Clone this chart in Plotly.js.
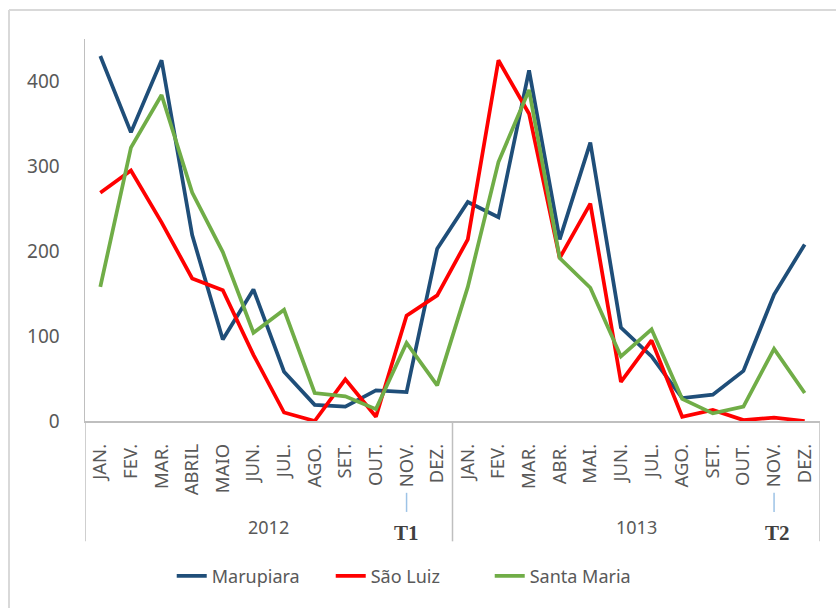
<!DOCTYPE html>
<html>
<head>
<meta charset="utf-8">
<script src="https://cdn.plot.ly/plotly-3.0.1.min.js"></script>
<style>html,body{margin:0;padding:0;background:#fff;}#chart{width:836px;height:608px;}</style>
</head>
<body>
<div id="chart"></div>
<script>
const years = ["2012", "1013"];
const months2012 = ["JAN.", "FEV.", "MAR.", "ABRIL", "MAIO", "JUN.", "JUL.", "AGO.", "SET.", "OUT.", "NOV.", "DEZ."];
const months2013 = ["JAN.", "FEV.", "MAR.", "ABR.", "MAI.", "JUN.", "JUL.", "AGO.", "SET.", "OUT.", "NOV.", "DEZ."];

const marupiara = [430, 340, 425, 219, 96, 155, 58, 19, 17, 36, 34, 203,
                   258, 240, 413, 214, 328, 110, 76, 27, 31, 59, 149, 208];
const saoLuiz   = [269, 295, 234, 168, 154, 78, 10, 0, 49, 5, 124, 148,
                   214, 425, 362, 192, 256, 46, 95, 5, 13, 1, 4, 0];
const santaMaria= [158, 322, 384, 269, 199, 104, 131, 33, 29, 14, 92, 42,
                   158, 305, 390, 192, 157, 76, 108, 26, 9, 17, 85, 33];

const markers = [{label: "T1", year: 0, month: "NOV."}, {label: "T2", year: 1, month: "NOV."}];

const monthLabels = months2012.concat(months2013);
const xIdx = monthLabels.map((_, i) => i);
const n1 = months2012.length, n = monthLabels.length;

function tr(name, y, color) {
  return {type: "scatter", mode: "lines", name: name, x: xIdx, y: y,
          line: {color: color, width: 3.75}};
}
const data = [
  tr("Marupiara", marupiara, "#1F4E79"),
  tr("São Luiz", saoLuiz, "#FF0000"),
  tr("Santa Maria", santaMaria, "#70AD47")
];

const grey = "#BFBFBF";
const shapes = [
  {type: "line", xref: "paper", yref: "paper", x0: -0.1034, x1: 1.05, y0: 1.0759, y1: 1.0759,
   line: {color: "#D9D9D9", width: 2}, layer: "below"},
  {type: "line", xref: "paper", yref: "paper", x0: -0.1034, x1: -0.1034, y0: 1.0759, y1: -0.55,
   line: {color: "#D9D9D9", width: 2}, layer: "below"}
];
[-0.5, n1 - 0.5, n - 0.5].forEach(xv => {
  shapes.push({type: "line", xref: "x", yref: "paper", x0: xv, x1: xv, y0: 0, y1: -0.315,
               line: {color: grey, width: 1.5}});
});
const annotations = [];
years.forEach((yr, k) => {
  const start = k === 0 ? 0 : n1;
  const end = k === 0 ? n1 - 1 : n - 1;
  annotations.push({xref: "x", yref: "paper", x: (start + end) / 2, y: -0.277, text: yr,
                    showarrow: false, xanchor: "center", yanchor: "middle",
                    font: {size: 18, color: "#595959"}});
});
markers.forEach(mk => {
  const list = mk.year === 0 ? months2012 : months2013;
  const idx = mk.year * n1 + list.indexOf(mk.month);
  shapes.push({type: "line", xref: "x", yref: "paper", x0: idx, x1: idx, y0: -0.188, y1: -0.238,
               line: {color: "#9DC3E6", width: 1.5}});
  annotations.push({xref: "x", yref: "paper", x: idx + (mk.year === 0 ? 0 : 0.1), y: -0.293,
                    text: "<b>" + mk.label + "</b>",
                    showarrow: false, xanchor: "center", yanchor: "middle",
                    font: {family: "Liberation Serif, Times New Roman, serif", size: 21, color: "#404040"}});
});

const layout = {
  width: 836, height: 608,
  margin: {l: 85, r: 16, t: 39, b: 187},
  paper_bgcolor: "#fff", plot_bgcolor: "#fff",
  font: {family: "Noto Sans, Open Sans, sans-serif", size: 18, color: "#595959"},
  showlegend: true,
  legend: {orientation: "h", x: 0.118, xanchor: "left", y: -0.406, yanchor: "middle",
           entrywidth: 114, entrywidthmode: "pixels",
           font: {size: 18, color: "#595959"}, traceorder: "normal"},
  xaxis: {type: "linear", range: [-0.5, n - 0.5], tickmode: "array", tickvals: xIdx, ticktext: monthLabels,
          tickangle: -90, showgrid: false, zeroline: false,
          showline: true, linecolor: grey, linewidth: 1.5, ticks: "", ticklabelstandoff: 14,
          tickfont: {size: 18.5, color: "#595959"}},
  yaxis: {range: [0, 450], tickvals: [0, 100, 200, 300, 400], showgrid: false, zeroline: false,
          showline: true, linecolor: grey, linewidth: 1.5, ticks: "", ticklabelstandoff: 20,
          tickfont: {size: 19, color: "#595959"}},
  shapes: shapes,
  annotations: annotations
};
Plotly.newPlot("chart", data, layout, {displayModeBar: false, staticPlot: true});
</script>
</body>
</html>
